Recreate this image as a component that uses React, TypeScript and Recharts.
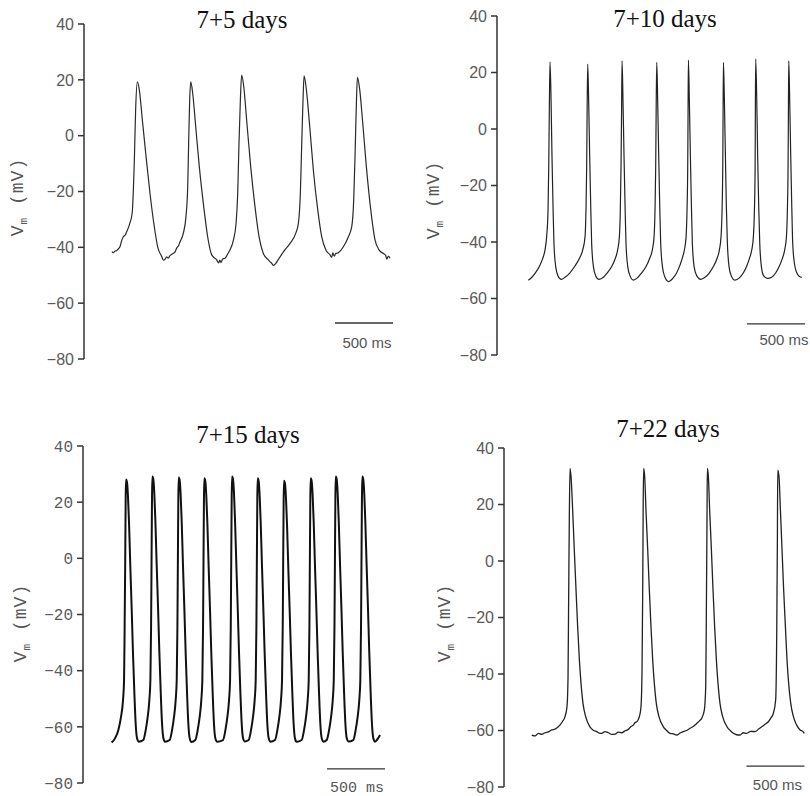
import React from 'react';
import { LineChart, Line, XAxis, YAxis, ReferenceLine } from 'recharts';

// ---------- data (time in ms, membrane potential in mV) ----------
const yTicks = [-80, -60, -40, -20, 0, 20, 40];
const titles = ['7+5 days', '7+10 days', '7+15 days', '7+22 days'];
const scaleLabel = '500 ms';
const scaleLength = 500;

const trace5: [number, number][] = [
  [240, -41.6], [255, -41.9], [268, -41.3], [280, -41.2], [295, -40.6], [310, -39.8], [325, -37.6], [339, -36.2], [355, -35.6], [368, -34.4], [395, -31.4], [415, -27.8], [434, -8.7], [445, 9.2], [460, 19.3],
  [477, 16.4], [503, 5.6], [532, -6.3], [569, -20.7], [606, -32.6], [635, -39.8], [670, -43.3], [685, -44.6], [698, -44.3], [712, -43.4], [725, -43.9], [741, -43.0], [760, -42.4], [785, -41.6], [800, -40.2], [815, -39.4], [828, -38.0], [856, -35.0], [879, -29.0], [894, -18.3], [902, -2.8], [911, 12.8], [920, 19.3],
  [937, 15.2], [963, 3.2], [994, -11.1], [1032, -25.4], [1066, -36.2], [1101, -42.7], [1144, -44.5], [1160, -45.6], [1170, -44.6], [1181, -45.4], [1195, -44.2], [1216, -43.9], [1240, -42.3], [1259, -40.9], [1288, -37.4], [1311, -31.4], [1325, -20.7], [1336, -2.8], [1348, 12.8], [1359, 21.7],
  [1377, 17.6], [1402, 5.6], [1437, -11.1], [1474, -25.4], [1509, -36.2], [1546, -42.2], [1589, -44.5], [1605, -45.2], [1620, -45.8], [1632, -46.5], [1650, -45.9], [1676, -44.3], [1700, -42.8], [1719, -41.6], [1776, -38.6], [1825, -35.0], [1848, -31.4], [1865, -20.7], [1877, -2.8], [1888, 12.8], [1897, 21.4],
  [1917, 16.4], [1946, 3.2], [1977, -12.3], [2015, -26.6], [2049, -36.2], [2084, -40.9], [2121, -42.7], [2135, -43.6], [2145, -42.0], [2158, -43.2], [2170, -42.2], [2193, -41.9], [2236, -39.8], [2279, -36.2], [2308, -32.6], [2325, -23.0], [2337, -6.3], [2348, 11.6], [2357, 20.9],
  [2377, 16.4], [2403, 4.4], [2434, -11.1], [2472, -26.6], [2509, -37.4], [2543, -40.9], [2581, -42.2], [2600, -42.8], [2610, -44.2], [2625, -43.1], [2638, -43.9],
];

const trace10: [number, number][] = [
  [270, -53.5], [290, -52.9], [328, -51.1], [365, -48.7], [394, -45.8], [414, -42.8], [428, -38.1], [440, -28.7], [446, -13.3], [451, 6.7], [457, 23.8],
  [466, 10.3], [474, -9.8], [483, -27.5], [491, -40.5], [506, -48.7], [526, -52.0], [555, -53.2], [586, -52.5], [629, -50.9], [672, -48.5], [710, -45.8], [739, -42.8], [759, -38.1], [767, -28.7], [773, -13.3], [777, 6.7], [782, 23.0],
  [790, 10.3], [799, -9.8], [808, -27.5], [816, -40.5], [831, -48.7], [851, -52.0], [879, -53.2], [917, -52.5], [951, -50.9], [989, -48.7], [1017, -46.1], [1040, -42.8], [1055, -38.1], [1063, -28.7], [1069, -13.3], [1074, 6.7], [1078, 24.1],
  [1086, 10.3], [1095, -9.8], [1104, -27.5], [1112, -40.5], [1127, -48.7], [1147, -52.0], [1176, -53.5], [1210, -52.7], [1247, -50.9], [1285, -48.7], [1313, -46.1], [1339, -42.8], [1354, -38.1], [1362, -28.7], [1368, -13.3], [1372, 6.7], [1377, 23.6],
  [1385, 10.3], [1394, -9.8], [1403, -27.5], [1411, -40.5], [1426, -48.7], [1446, -52.3], [1480, -54.0], [1515, -52.9], [1549, -50.9], [1578, -48.1], [1601, -45.2], [1618, -42.2], [1630, -38.1], [1638, -28.7], [1644, -13.3], [1647, 6.7], [1650, 24.4],
  [1658, 10.3], [1667, -9.8], [1676, -27.5], [1684, -40.5], [1699, -48.7], [1722, -52.0], [1756, -53.2], [1793, -52.5], [1831, -50.9], [1865, -48.7], [1894, -46.1], [1917, -42.8], [1931, -38.1], [1940, -28.7], [1946, -13.3], [1949, 6.7], [1952, 23.6],
  [1960, 10.3], [1969, -9.8], [1977, -27.5], [1986, -40.5], [2000, -48.7], [2020, -52.0], [2052, -53.5], [2089, -52.7], [2124, -50.9], [2153, -48.5], [2176, -45.8], [2196, -42.8], [2210, -38.1], [2219, -28.7], [2225, -13.3], [2227, 6.7], [2230, 24.8],
  [2239, 10.3], [2247, -9.8], [2256, -27.5], [2265, -40.5], [2279, -48.7], [2299, -52.0], [2331, -52.9], [2368, -52.5], [2403, -50.9], [2434, -48.5], [2460, -45.8], [2480, -42.8], [2495, -38.1], [2503, -28.7], [2509, -13.3], [2512, 6.7], [2515, 24.1],
  [2523, 10.3], [2532, -9.8], [2541, -27.5], [2549, -40.5], [2564, -47.6], [2584, -50.9], [2607, -52.2], [2627, -52.5],
];

const trace15: [number, number][] = [
  [247, -65.6], [276, -64.1], [305, -61.1], [328, -56.4], [345, -50.5], [354, -43.3], [359, -24.4], [364, -0.6], [368, 21.9], [371, 28.1],
  [380, 26.9], [388, 21.9], [397, 12.4], [408, -3.0], [420, -18.4], [431, -33.8], [443, -48.1], [454, -58.8], [466, -64.1], [480, -65.3],
  [520, -64.7], [541, -61.1], [558, -56.4], [572, -50.5], [581, -43.3], [587, -24.4], [591, -0.6], [595, 21.9], [598, 29.1],
  [607, 27.9], [615, 22.9], [624, 13.4], [635, -2.0], [647, -17.4], [658, -33.0], [670, -47.5], [681, -58.5], [693, -64.0], [707, -65.3],
  [747, -64.7], [768, -61.1], [785, -56.4], [799, -50.5], [808, -43.3], [814, -24.4], [818, -0.6], [822, 21.9], [825, 28.8],
  [834, 27.6], [842, 22.6], [851, 13.0], [862, -2.5], [874, -18.0], [885, -33.5], [897, -48.0], [908, -58.8], [920, -64.1], [934, -65.4],
  [968, -64.7], [989, -61.1], [1006, -56.4], [1020, -50.5], [1029, -43.3], [1035, -24.4], [1039, -0.6], [1043, 21.9], [1046, 28.5],
  [1055, 27.3], [1063, 22.3], [1072, 12.8], [1083, -2.6], [1095, -18.2], [1106, -33.6], [1118, -48.0], [1129, -58.8], [1141, -64.1], [1155, -65.3],
  [1207, -64.7], [1228, -61.1], [1245, -56.4], [1259, -50.5], [1268, -43.3], [1274, -24.4], [1278, -0.6], [1282, 21.9], [1285, 29.1],
  [1294, 27.9], [1302, 22.9], [1311, 13.2], [1322, -2.2], [1334, -17.8], [1345, -33.4], [1357, -48.0], [1368, -58.7], [1380, -64.1], [1394, -65.2],
  [1428, -64.7], [1449, -61.1], [1466, -56.4], [1480, -50.5], [1489, -43.3], [1495, -24.4], [1499, -0.6], [1503, 21.9], [1506, 28.5],
  [1515, 27.3], [1523, 22.3], [1532, 12.8], [1543, -2.6], [1555, -18.2], [1566, -33.6], [1578, -48.0], [1589, -58.8], [1601, -64.1], [1615, -65.3],
  [1655, -64.7], [1676, -61.1], [1693, -56.4], [1707, -50.5], [1716, -43.3], [1722, -24.4], [1726, -0.6], [1730, 21.0], [1733, 27.6],
  [1742, 26.5], [1750, 21.5], [1759, 12.0], [1770, -3.4], [1782, -18.8], [1793, -34.0], [1805, -48.3], [1816, -58.9], [1828, -64.2], [1842, -65.3],
  [1885, -64.7], [1906, -61.1], [1923, -56.4], [1937, -50.5], [1946, -43.3], [1952, -24.4], [1956, -0.6], [1960, 21.9], [1963, 28.5],
  [1972, 27.3], [1980, 22.3], [1989, 12.8], [2000, -2.6], [2012, -18.2], [2023, -33.6], [2035, -48.0], [2046, -58.8], [2058, -64.1], [2072, -65.3],
  [2101, -64.7], [2122, -61.1], [2139, -56.4], [2153, -50.5], [2162, -43.3], [2168, -24.4], [2172, -0.6], [2176, 21.9], [2179, 29.1],
  [2188, 27.9], [2196, 22.9], [2205, 13.2], [2216, -2.2], [2228, -17.8], [2239, -33.4], [2251, -48.0], [2262, -58.7], [2274, -64.1], [2288, -65.2],
  [2330, -64.7], [2351, -61.1], [2368, -56.4], [2382, -50.5], [2391, -43.3], [2397, -24.4], [2401, -0.6], [2405, 21.9], [2408, 29.1],
  [2417, 27.9], [2425, 22.9], [2434, 13.2], [2445, -2.2], [2457, -17.8], [2468, -33.4], [2480, -48.0], [2491, -58.7], [2503, -64.1], [2517, -65.3],
  [2535, -64.6], [2561, -62.9],
];

const trace22: [number, number][] = [
  [239, -61.6], [268, -61.9], [296, -61.0], [325, -61.4], [353, -60.8], [382, -60.5], [411, -59.8], [440, -59.5], [468, -58.7], [503, -56.9], [526, -55.1], [543, -51.6], [552, -41.0], [557, -15.0], [563, 14.5], [569, 32.8],
  [578, 29.8], [592, 18.0], [606, 3.9], [621, -10.3], [635, -23.3], [650, -35.1], [664, -43.3], [681, -50.4], [704, -55.1], [741, -58.7], [770, -59.9], [799, -60.4], [820, -60.9], [842, -61.0], [870, -60.4], [900, -60.8], [930, -61.4], [957, -61.3], [985, -60.6], [1014, -60.8], [1045, -60.1], [1072, -59.6], [1095, -58.6], [1115, -58.1], [1130, -57.2], [1144, -56.9], [1157, -56.2], [1167, -55.1], [1181, -51.6], [1190, -38.6], [1196, -9.1], [1200, 20.4], [1204, 32.8],
  [1213, 29.8], [1224, 18.0], [1239, 3.9], [1253, -10.3], [1267, -23.3], [1282, -35.1], [1296, -43.3], [1313, -50.4], [1336, -55.1], [1374, -58.7], [1400, -59.9], [1431, -61.0], [1460, -61.2], [1489, -61.6], [1518, -60.9], [1546, -60.4], [1575, -60.0], [1604, -59.2], [1635, -58.5], [1661, -57.5], [1685, -56.6], [1704, -55.7], [1727, -52.8], [1739, -44.5], [1744, -20.9], [1750, 14.5], [1753, 32.8],
  [1762, 29.8], [1773, 18.0], [1788, 3.9], [1802, -10.3], [1816, -23.3], [1831, -35.1], [1845, -43.3], [1862, -50.4], [1885, -55.1], [1923, -58.7], [1950, -60.0], [1977, -61.0], [2005, -61.5], [2035, -61.6], [2062, -60.8], [2092, -61.0], [2128, -60.3], [2164, -60.4], [2195, -59.5], [2222, -58.7], [2250, -57.8], [2279, -56.9], [2300, -55.6], [2322, -53.9], [2342, -49.2], [2351, -26.8], [2357, 8.6], [2360, 32.2],
  [2371, 29.8], [2383, 18.0], [2397, 3.9], [2411, -10.3], [2426, -23.3], [2440, -35.1], [2454, -43.3], [2472, -50.4], [2495, -55.1], [2523, -58.1], [2552, -59.8], [2575, -60.3], [2589, -61.0],
];

// scale bar start time (ms) and level (mV) for each panel
const scaleBarStart = [2164, 2155, 2104, 2090];
const scaleBarLevel = [-67.1, -69.0, -75.0, -72.6];

// ---------- layout / style ----------
type Cfg = {
  left: number; top: number; width: number; height: number;
  margin: { top: number; right: number; bottom: number; left: number };
  yWidth: number; xMax: number; trace: [number, number][];
  stroke: string; strokeWidth: number; tickFont: string; tickSize: number;
  barLabelDy: number; barLabelDx: number;
};

const sans = 'Liberation Sans, Arial, sans-serif';
const mono = 'Liberation Mono, Courier New, monospace';
const serif = 'Liberation Serif, Times New Roman, serif';

const panels: Cfg[] = [
  { left: 0, top: 0, width: 405, height: 375, margin: { top: 24, right: 5, bottom: 16, left: 0 }, yWidth: 84, xMax: 2724, trace: trace5, stroke: '#2a2a2a', strokeWidth: 1.2, tickFont: sans, tickSize: 16, barLabelDy: 25, barLabelDx: 3 },
  { left: 410, top: 0, width: 400, height: 375, margin: { top: 16, right: 0, bottom: 20, left: 0 }, yWidth: 87, xMax: 2698, trace: trace10, stroke: '#222', strokeWidth: 1.2, tickFont: sans, tickSize: 16, barLabelDy: 21, barLabelDx: 8 },
  { left: 0, top: 400, width: 405, height: 396, margin: { top: 46, right: 5, bottom: 13, left: 0 }, yWidth: 83, xMax: 2733, trace: trace15, stroke: '#111', strokeWidth: 2, tickFont: mono, tickSize: 16, barLabelDy: 23, barLabelDx: 1 },
  { left: 410, top: 400, width: 400, height: 396, margin: { top: 48, right: 0, bottom: 9, left: 0 }, yWidth: 94, xMax: 2638, trace: trace22, stroke: '#222', strokeWidth: 1.3, tickFont: sans, tickSize: 16, barLabelDy: 24, barLabelDx: 2 },
];

const titlePos = [
  { x: 242, y: 28 }, { x: 665, y: 27 }, { x: 248, y: 443 }, { x: 668, y: 437 },
];
const yLabelPos = [
  { x: 23, y: 197 }, { x: 439, y: 200 }, { x: 26, y: 623 }, { x: 450, y: 623 },
];

const fmt = (v: number) => (v < 0 ? '\u2212' + Math.abs(v) : String(v));

function Panel({ cfg, idx }: { cfg: Cfg; idx: number }) {
  const data = cfg.trace.map(([t, v]) => ({ t, v }));
  const b0 = scaleBarStart[idx];
  const bl = scaleBarLevel[idx];
  const labelFont = idx === 2 ? mono : sans;
  return (
    <div style={{ position: 'absolute', left: cfg.left, top: cfg.top }}>
      <LineChart width={cfg.width} height={cfg.height} data={data} margin={cfg.margin}>
        <XAxis type="number" dataKey="t" domain={[0, cfg.xMax]} hide />
        <YAxis
          type="number"
          domain={[-80, 40]}
          ticks={yTicks}
          interval={0}
          width={cfg.yWidth}
          tickFormatter={fmt}
          tickSize={6}
          tickMargin={4}
          axisLine={{ stroke: '#333', strokeWidth: 1.5 }}
          tickLine={{ stroke: '#333', strokeWidth: 1.5 }}
          tick={{ fill: '#5a5a5a', fontSize: cfg.tickSize, fontFamily: cfg.tickFont }}
        />
        <Line
          type="monotone"
          dataKey="v"
          stroke={cfg.stroke}
          strokeWidth={cfg.strokeWidth}
          dot={false}
          activeDot={false}
          isAnimationActive={false}
        />
        <ReferenceLine
          segment={[{ x: b0, y: bl }, { x: b0 + scaleLength, y: bl }]}
          stroke="#333"
          strokeWidth={1.3}
          label={(p: any) => {
            const vb = p && p.viewBox ? p.viewBox : { x: 0, y: 0, width: 0 };
            return (
              <text
                x={vb.x + (vb.width || 0) / 2 + cfg.barLabelDx}
                y={vb.y + cfg.barLabelDy}
                textAnchor="middle"
                fill="#555"
                fontSize={15}
                fontFamily={labelFont}
              >
                {scaleLabel}
              </text>
            );
          }}
        />
      </LineChart>
    </div>
  );
}

export default function App() {
  return (
    <div style={{ position: 'absolute', left: 0, top: 0, width: 810, height: 796, background: '#fff', overflow: 'hidden' }}>
      {panels.map((cfg, i) => (
        <Panel key={i} cfg={cfg} idx={i} />
      ))}
      <svg width={810} height={796} style={{ position: 'absolute', left: 0, top: 0, pointerEvents: 'none' }}>
        {titles.map((t, i) => (
          <text key={'t' + i} x={titlePos[i].x} y={titlePos[i].y} textAnchor="middle" fontFamily={serif} fontSize={25} fill="#111">
            {t}
          </text>
        ))}
        {yLabelPos.map((p, i) => (
          <text
            key={'y' + i}
            x={p.x}
            y={p.y}
            transform={`rotate(-90 ${p.x} ${p.y})`}
            textAnchor="middle"
            fontFamily={mono}
            fontSize={18}
            letterSpacing={1}
            fill="#555"
          >
            V<tspan fontSize={11} dy={4}>m</tspan>
            <tspan dy={-4}> (mV)</tspan>
          </text>
        ))}
      </svg>
    </div>
  );
}
